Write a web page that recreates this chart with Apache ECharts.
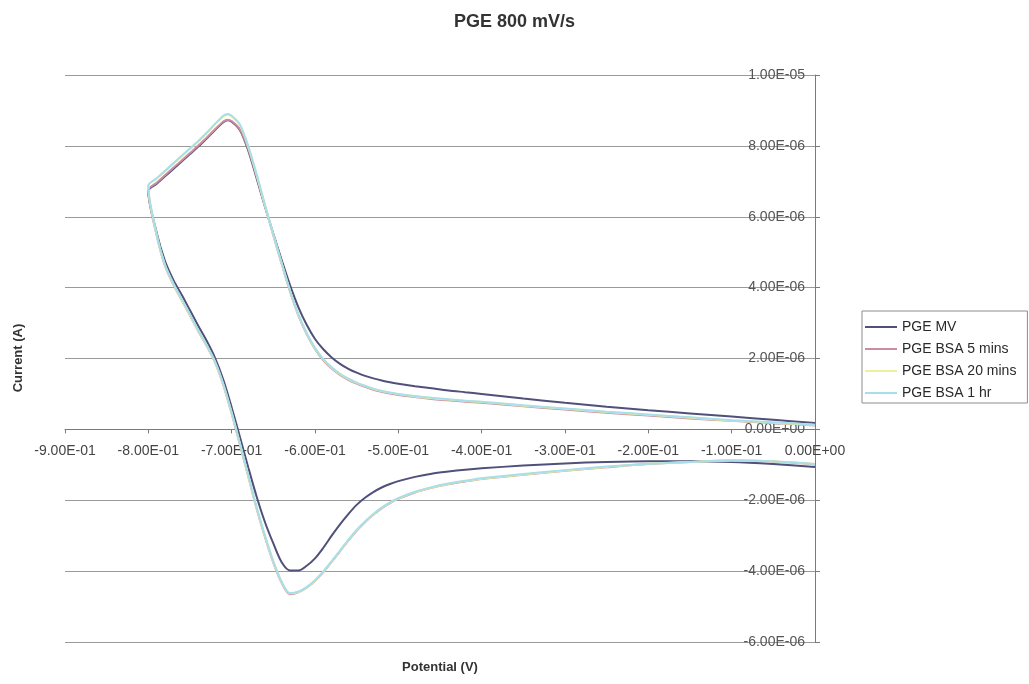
<!DOCTYPE html>
<html>
<head>
<meta charset="utf-8">
<title>PGE 800 mV/s</title>
<script src="https://cdn.jsdelivr.net/npm/echarts@6/dist/echarts.min.js"></script>
<style>
  html, body { margin: 0; padding: 0; background: #ffffff; }
  #chart { width: 1029px; height: 684px; }
</style>
</head>
<body>
<div id="chart"></div>
<script>
// Cyclic voltammograms on a pyrolytic graphite electrode, 800 mV/s scan.
// Potentials in V; currents listed in microamps and plotted in A.

const seriesNames = ['PGE MV', 'PGE BSA 5 mins', 'PGE BSA 20 mins', 'PGE BSA 1 hr'];
const seriesColors = ['#50507a', '#c98ca2', '#efef9c', '#a6dfe9'];

// Forward (cathodic) sweep: 0 V down to -0.8 V
const forwardPotential = [0, -0.05, -0.1, -0.15, -0.2, -0.25, -0.3, -0.35, -0.4,
  -0.42, -0.44, -0.46, -0.48,
  -0.5, -0.51, -0.52, -0.53, -0.54, -0.55, -0.56, -0.57, -0.58, -0.59,
  -0.6, -0.61, -0.62, -0.63, -0.64, -0.65, -0.66, -0.67, -0.68, -0.69,
  -0.7, -0.705, -0.71, -0.72, -0.73, -0.74, -0.75, -0.76, -0.77, -0.78, -0.79, -0.8];

// Reverse (anodic) sweep: from -0.8 V back up to 0 V
const reversePotential = [-0.79, -0.78, -0.77, -0.76, -0.75, -0.74, -0.73, -0.72, -0.71, -0.7,
  -0.69, -0.68, -0.67, -0.66, -0.65, -0.64, -0.63, -0.62, -0.61, -0.6,
  -0.59, -0.58, -0.57, -0.56, -0.55, -0.54, -0.53, -0.52, -0.51, -0.5,
  -0.48, -0.46, -0.44, -0.42, -0.4, -0.35, -0.3, -0.25, -0.2, -0.15, -0.1, -0.05, 0];

const mvForward = [0.18, 0.27, 0.36, 0.45, 0.54, 0.64, 0.75, 0.87, 1.0,
  1.05, 1.1, 1.16, 1.22,
  1.29, 1.33, 1.38, 1.44, 1.51, 1.6, 1.71, 1.85, 2.03, 2.26,
  2.55, 2.95, 3.45, 4.07, 4.78, 5.52, 6.28, 7.08, 7.86, 8.44,
  8.68, 8.72, 8.67, 8.45, 8.21, 7.98, 7.77, 7.56, 7.35, 7.14, 6.93, 6.72];
const mvReverse = [5.55, 4.75, 4.22, 3.8, 3.36, 2.92, 2.5, 2.02, 1.4, 0.62,
  -0.22, -1.08, -1.9, -2.62, -3.22, -3.75, -3.98, -3.98, -3.85, -3.64,
  -3.34, -3.0, -2.68, -2.39, -2.13, -1.93, -1.77, -1.64, -1.54, -1.46,
  -1.34, -1.25, -1.19, -1.14, -1.1, -1.02, -0.96, -0.92, -0.9, -0.9, -0.92, -0.98, -1.06];

const bsa5Forward = [0.11, 0.18, 0.24, 0.31, 0.39, 0.47, 0.56, 0.65, 0.75,
  0.78, 0.82, 0.86, 0.91,
  0.97, 1.01, 1.06, 1.12, 1.2, 1.29, 1.4, 1.54, 1.72, 1.95,
  2.27, 2.69, 3.22, 3.89, 4.67, 5.47, 6.3, 7.12, 7.9, 8.46,
  8.7, 8.74, 8.69, 8.47, 8.23, 8.01, 7.8, 7.59, 7.38, 7.17, 6.96, 6.75];
const bsa5Reverse = [5.47, 4.61, 4.09, 3.65, 3.21, 2.77, 2.35, 1.89, 1.25, 0.44,
  -0.44, -1.34, -2.24, -3.04, -3.76, -4.33, -4.65, -4.6, -4.47, -4.28,
  -4.03, -3.74, -3.44, -3.14, -2.86, -2.62, -2.41, -2.23, -2.08, -1.96,
  -1.78, -1.65, -1.55, -1.47, -1.4, -1.28, -1.17, -1.07, -0.98, -0.92, -0.88, -0.91, -0.99];

const bsa20Forward = [0.12, 0.19, 0.25, 0.33, 0.41, 0.49, 0.58, 0.67, 0.77,
  0.8, 0.84, 0.88, 0.93,
  0.99, 1.03, 1.08, 1.14, 1.22, 1.31, 1.42, 1.56, 1.74, 1.97,
  2.29, 2.71, 3.24, 3.91, 4.69, 5.49, 6.31, 7.18, 7.97, 8.58,
  8.83, 8.88, 8.83, 8.6, 8.35, 8.12, 7.91, 7.7, 7.49, 7.28, 7.07, 6.86];
const bsa20Reverse = [5.48, 4.63, 4.1, 3.66, 3.22, 2.78, 2.36, 1.9, 1.26, 0.46,
  -0.42, -1.32, -2.22, -3.02, -3.74, -4.31, -4.63, -4.59, -4.46, -4.27,
  -4.02, -3.73, -3.43, -3.13, -2.85, -2.61, -2.4, -2.22, -2.07, -1.95,
  -1.77, -1.64, -1.54, -1.46, -1.39, -1.27, -1.16, -1.06, -0.97, -0.92, -0.88, -0.9, -0.98];

const bsa1hForward = [0.13, 0.2, 0.26, 0.34, 0.42, 0.5, 0.59, 0.68, 0.78,
  0.81, 0.85, 0.89, 0.94,
  1.0, 1.04, 1.09, 1.15, 1.23, 1.32, 1.43, 1.57, 1.75, 1.98,
  2.3, 2.72, 3.25, 3.92, 4.7, 5.5, 6.33, 7.2, 7.99, 8.6,
  8.85, 8.9, 8.85, 8.62, 8.37, 8.14, 7.93, 7.72, 7.51, 7.3, 7.09, 6.88];
const bsa1hReverse = [5.5, 4.65, 4.12, 3.68, 3.24, 2.8, 2.38, 1.92, 1.28, 0.48,
  -0.4, -1.3, -2.2, -3.0, -3.72, -4.3, -4.62, -4.58, -4.45, -4.26,
  -4.01, -3.72, -3.42, -3.12, -2.84, -2.6, -2.39, -2.21, -2.06, -1.94,
  -1.76, -1.63, -1.53, -1.45, -1.38, -1.26, -1.15, -1.05, -0.97, -0.92, -0.88, -0.9, -0.98];

// Axis ranges and tick spacing
const xMin = -0.9, xMax = 0, xStep = 0.1;
const yMin = -6e-6, yMax = 1e-5, yStep = 2e-6;
const MICRO = 1e-6;

const FONT = '"Liberation Sans", Arial, sans-serif';

// Spreadsheet-style scientific notation, e.g. -9.00E-01, 0.00E+00
function sci(v) {
  if (Math.abs(v) < 1e-15) v = 0;
  const parts = v.toExponential(2).split('e');
  const exp = parts[1];
  const sign = exp[0] === '-' ? '-' : '+';
  const digits = exp.replace(/[+-]/, '').padStart(2, '0');
  return parts[0] + 'E' + sign + digits;
}

// One closed loop per series: forward sweep followed by reverse sweep
function loop(fwd, rev) {
  const pts = [];
  forwardPotential.forEach((p, i) => pts.push([p, fwd[i] * MICRO]));
  reversePotential.forEach((p, i) => pts.push([p, rev[i] * MICRO]));
  return pts;
}

const loops = [
  loop(mvForward, mvReverse),
  loop(bsa5Forward, bsa5Reverse),
  loop(bsa20Forward, bsa20Reverse),
  loop(bsa1hForward, bsa1hReverse)
];

const chart = echarts.init(document.getElementById('chart'), null, { renderer: 'canvas' });

chart.setOption({
  backgroundColor: '#ffffff',
  animation: false,
  title: {
    text: 'PGE 800 mV/s',
    left: 'center',
    top: 8,
    textStyle: { fontFamily: FONT, fontSize: 18, fontWeight: 'bold', color: '#333333' }
  },
  legend: {
    orient: 'vertical',
    left: 862,
    top: 311,
    padding: [9, 11, 3, 3],
    itemGap: 8,
    itemWidth: 32,
    itemHeight: 2,
    icon: 'rect',
    borderColor: '#8c8c8c',
    borderWidth: 1,
    data: seriesNames,
    textStyle: { fontFamily: FONT, fontSize: 14, color: '#2a2a2a' }
  },
  grid: { left: 65, right: 214, top: 75, bottom: 42, containLabel: false },
  xAxis: {
    type: 'value',
    position: 'bottom',
    min: xMin,
    max: xMax,
    interval: xStep,
    axisLine: { show: true, onZero: false, lineStyle: { color: '#7a7a7a', width: 1 } },
    axisTick: { show: true, length: 4, lineStyle: { color: '#7a7a7a' } },
    axisLabel: {
      formatter: sci,
      fontFamily: FONT,
      fontSize: 14,
      color: '#444444',
      margin: 15,
      showMinLabel: true,
      showMaxLabel: true
    },
    splitLine: { show: false }
  },
  yAxis: {
    type: 'value',
    position: 'right',
    min: yMin,
    max: yMax,
    interval: yStep,
    axisLine: { show: true, onZero: false, lineStyle: { color: '#7a7a7a', width: 1 } },
    axisTick: { show: true, inside: false, length: 5, lineStyle: { color: '#7a7a7a' } },
    axisLabel: {
      inside: true,
      formatter: sci,
      fontFamily: FONT,
      fontSize: 14,
      color: '#555555',
      margin: 10
    },
    splitLine: { show: true, lineStyle: { color: '#9a9a9a', width: 1 } }
  },
  graphic: [
    {
      type: 'text',
      x: 18,
      y: 358,
      rotation: Math.PI / 2,
      style: {
        text: 'Current (A)',
        font: 'bold 13px ' + FONT,
        fill: '#333333',
        textAlign: 'center',
        textVerticalAlign: 'middle'
      }
    },
    {
      type: 'text',
      x: 440,
      y: 667,
      style: {
        text: 'Potential (V)',
        font: 'bold 13px ' + FONT,
        fill: '#333333',
        textAlign: 'center',
        textVerticalAlign: 'middle'
      }
    }
  ],
  series: seriesNames.map((name, i) => ({
    name: name,
    type: 'line',
    data: loops[i],
    smooth: 0.3,
    symbol: 'none',
    showSymbol: false,
    color: seriesColors[i],
    lineStyle: { color: seriesColors[i], width: 2 },
    z: 2 + i
  }))
});

// The potential axis crosses the current axis at 0 A: lift the x axis
// (line, ticks and labels) from the bottom of the grid up to that level.
const zeroY = chart.convertToPixel({ yAxisIndex: 0 }, 0);
const bottomY = chart.convertToPixel({ yAxisIndex: 0 }, yMin);
chart.setOption({ xAxis: { offset: zeroY - bottomY } });
</script>
</body>
</html>
